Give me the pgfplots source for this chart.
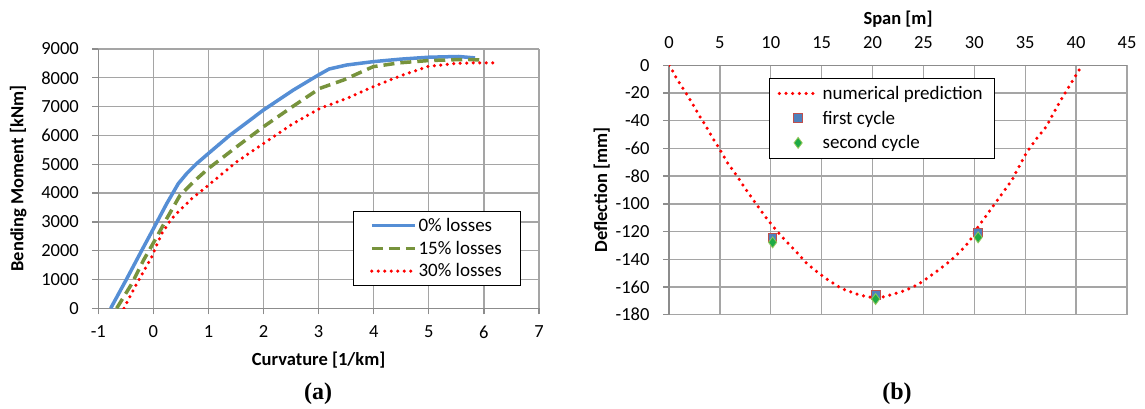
\documentclass[border=0pt]{standalone}
\usepackage{pgfplots}
\pgfplotsset{compat=1.18}
\usepackage{fontspec}
\setmainfont{Carlito}
\newfontfamily\timesfont{Liberation Serif}
\definecolor{cblue}{RGB}{85,142,213}
\definecolor{cgreen}{RGB}{119,147,60}
\definecolor{cred}{RGB}{255,0,0}
\definecolor{cgrid}{RGB}{165,165,165}
\definecolor{caxis}{RGB}{140,140,140}
\definecolor{sqfill}{RGB}{79,129,189}
\definecolor{sqedge}{RGB}{192,80,77}
\definecolor{dmfill}{RGB}{30,170,70}
\definecolor{dmedge}{RGB}{150,200,90}
\pgfplotsset{
  myaxis/.style={
    scale only axis,
    font=\fontsize{18.5}{22}\selectfont,
    /pgf/number format/assume math mode=true,
    /pgf/number format/1000 sep={},
    grid=major,
    grid style={cgrid, line width=1.3pt},
    axis line style={caxis, line width=1.3pt, -},
    tick style={caxis, line width=1.3pt},
    major tick length=6pt,
    tick align=outside,
    label style={font=\fontsize{18.5}{22}\selectfont\bfseries},
    legend cell align=left,
  },
}
\begin{document}
\begin{tikzpicture}
\path[use as bounding box] (0,0) rectangle (1145pt,409pt);
% ---------------- (a) ----------------
\begin{axis}[myaxis,
  at={(98.3pt,100.7pt)}, anchor=south west,
  width=440.7pt, height=259.3pt,
  xmin=-1, xmax=7, ymin=0, ymax=9000,
  xtick={-1,0,...,7}, ytick={0,1000,...,9000},
  axis x line*=bottom, axis y line*=left,
  xticklabel style={yshift=-8pt},
  yticklabel style={xshift=-10pt},
  xlabel={Curvature [1/km]}, ylabel={Bending Moment [kNm]},
  xlabel style={at={(axis description cs:0.5,-0.199)}, anchor=center},
  ylabel style={at={(axis description cs:-0.182,0.5)}, anchor=center},
  legend image code/.code={\draw[mark repeat=2,mark phase=2,#1] plot coordinates {(0pt,0pt) (21.5pt,0pt) (43pt,0pt)};},
  legend style={at={(0.578,0.376)}, anchor=north west, draw=black, line width=1pt, fill=white,
    inner xsep=16.5pt, inner ysep=5pt, row sep=4pt,
    nodes={inner sep=2pt, line width=1pt, font=\fontsize{19}{22}\selectfont}},
]
\addplot[cblue, line width=3.5pt] coordinates {
(-0.775,0) (-0.485,1020) (-0.212,2007) (0,2760) (0.241,3630) (0.452,4327)
(0.604,4675) (0.786,5023) (0.997,5371) (1.39,6009) (1.996,6879) (2.54,7575)
(2.995,8097) (3.19,8306) (3.51,8445) (3.99,8561) (4.5,8650) (5,8715)
(5.54,8740) (5.84,8690)};
\addlegendentry{0\% losses}
\addplot[cgreen, line width=3.5pt, dash pattern=on 11pt off 6pt] coordinates {
(-0.666,0) (-0.394,847) (-0.182,1659) (0.06,2471) (0.241,3109) (0.483,3921)
(0.725,4385) (0.997,4849) (1.51,5603) (1.996,6299) (2.54,7018) (3.02,7633)
(3.45,7923) (3.99,8387) (4.47,8520) (5,8600) (5.68,8640) (6.02,8610)};
\addlegendentry{15\% losses}
\addplot[cred, line width=3.5pt, line cap=round, dash pattern=on 0pt off 6.5pt] coordinates {
(-0.534,0) (-0.353,673) (-0.153,1369) (-0.033,1775) (0.149,2587) (0.33,3109)
(0.51,3457) (0.695,3805) (0.997,4269) (1.51,5081) (1.996,5719) (2.54,6415)
(3.02,6937) (3.51,7285) (3.99,7691) (4.5,8080) (5,8400) (5.5,8500)
(5.84,8520) (6.18,8520)};
\addlegendentry{30\% losses}
\end{axis}
% ---------------- (b) ----------------
\begin{axis}[myaxis,
  at={(669pt,94.3pt)}, anchor=south west,
  width=458pt, height=249.4pt,
  xmin=0, xmax=45, ymin=-180, ymax=0,
  xtick={0,5,...,45}, ytick={-180,-160,...,0},
  axis x line*=top, axis y line*=left,
  xtick style={draw=none},
  xticklabel style={yshift=7pt},
  yticklabel style={xshift=-10pt},
  xlabel={Span [m]}, ylabel={Deflection [mm]},
  xlabel style={at={(axis description cs:0.5,1.184)}, anchor=center},
  ylabel style={at={(axis description cs:-0.147,0.5)}, anchor=center},
  legend image code/.code={\draw[mark repeat=2,mark phase=2,#1] plot coordinates {(0pt,0pt) (18.8pt,0pt) (37.6pt,0pt)};},
  legend style={at={(axis cs:9.83,-8.9)}, anchor=north west, draw=black, line width=1pt, fill=white,
    inner xsep=8pt, inner ysep=4pt, row sep=2pt,
    nodes={inner sep=4pt, line width=1pt, font=\fontsize{19}{22}\selectfont}},
]
\addplot[cred, line width=3.5pt, line cap=round, dash pattern=on 0pt off 6.7pt] coordinates {
(0,0) (0.35,-4) (0.7,-9) (1.48,-17.8) (2.18,-26.2) (2.9,-35.4) (3.66,-44.3)
(4.3,-52.7) (5.07,-61.6) (5.78,-70.7) (6.66,-79.6) (7.36,-87.6) (8.17,-96)
(8.98,-104.4) (9.83,-112.8) (10.75,-120.8) (11.7,-128.5) (12.65,-135.7)
(13.53,-142.9) (14.59,-149.4) (15.64,-155) (16.98,-161.2) (18.4,-165)
(19.45,-167) (20.3,-168) (21.2,-167) (21.74,-165.8) (23.15,-162.7) (24.38,-158.6)
(25.6,-152.5) (26.5,-147.7) (27.55,-141.7) (28.6,-134.5) (29.5,-127.3)
(30.37,-116.5) (31.25,-107.6) (32.14,-98.6) (32.84,-91.5) (33.7,-82.8)
(34.4,-73.1) (35.1,-63.5) (36,-53.9) (37.07,-44.3) (37.77,-34.6) (38.5,-25)
(39.2,-16.6) (39.9,-8.2) (40.3,-3.4)};
\addlegendentry{numerical prediction}
\addplot[only marks, mark=square*, mark size=4.3pt, mark options={fill=sqfill, draw=sqedge, line width=1pt}] coordinates {
(10.18,-124.4) (20.33,-165.8) (30.37,-120.8)};
\addlegendentry{first cycle}
\addplot[only marks, mark=diamond*, mark size=5.5pt, mark options={fill=dmfill, draw=dmedge, line width=0.8pt}] coordinates {
(10.18,-127.8) (20.3,-168.7) (30.37,-124.2)};
\addlegendentry{second cycle}
\end{axis}
\node[font=\fontsize{24}{28}\timesfont\bfseries] at (318pt,15pt) {(a)};
\node[font=\fontsize{24}{28}\timesfont\bfseries] at (897pt,15pt) {(b)};
\end{tikzpicture}
\end{document}
